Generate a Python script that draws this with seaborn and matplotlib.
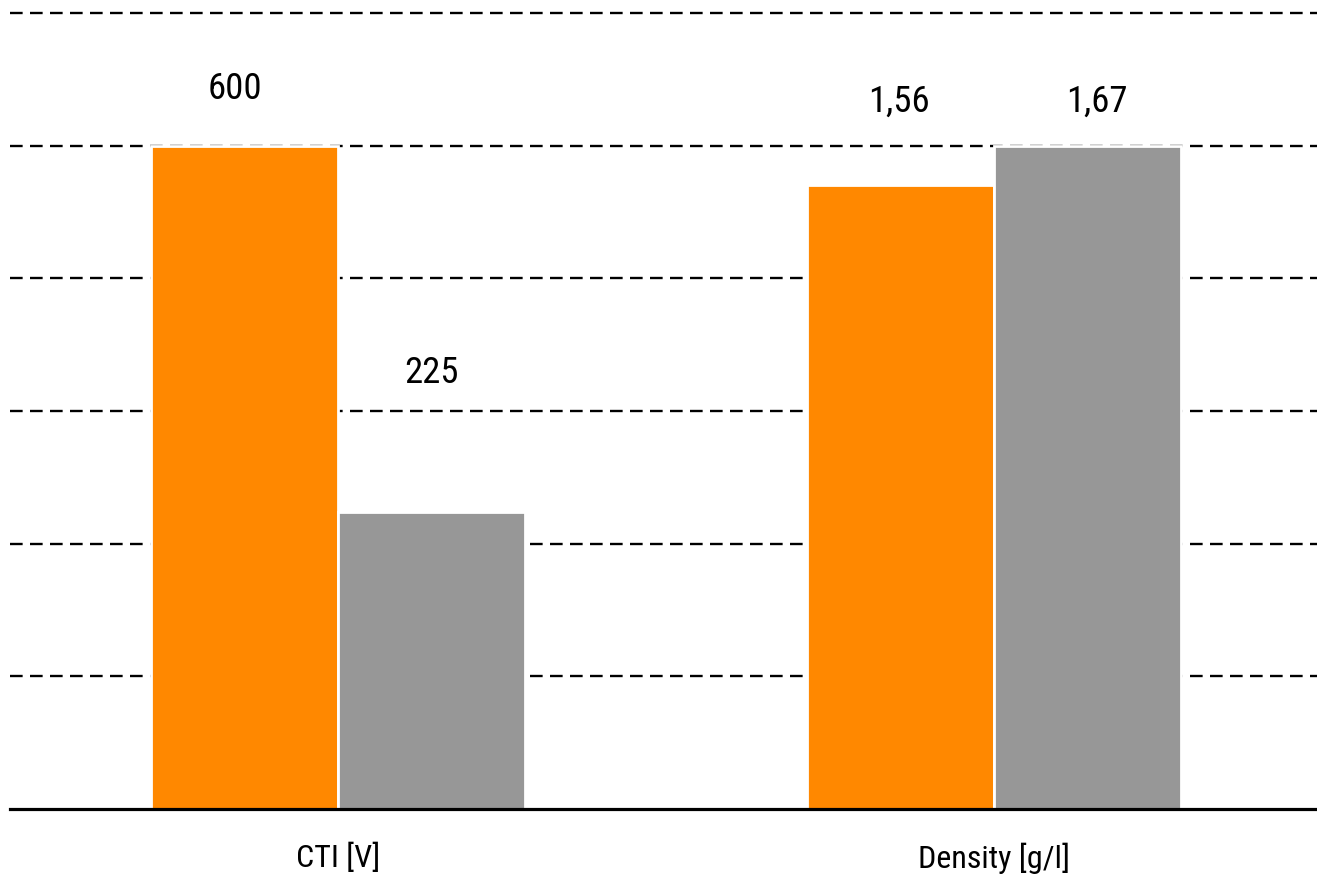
import matplotlib
matplotlib.use("Agg")
import matplotlib.pyplot as plt
from matplotlib import font_manager
import pandas as pd
import seaborn as sns

# Property groups and the two compared materials
categories = ["CTI [V]", "Density [g/l]"]
series = ["Compound", "Reference"]

# Relative bar heights on the 0-6 grid scale, per series
heights_compound = [5.0, 4.70]
heights_reference = [2.24, 5.0]

# Value labels printed above the bars
labels_compound = ["600", "1,56"]
labels_reference = ["225", "1,67"]

# Layout for value labels: height on the grid scale and horizontal nudge in pixels
label_y = {"Compound": [5.43, 5.33], "Reference": [3.29, 5.33]}
label_dx = {"Compound": [-10, -2], "Reference": [0, 9]}

colors = {"Compound": "#FF8800", "Reference": "#979797"}

df = pd.DataFrame({
    "category": categories * 2,
    "series": [series[0]] * len(categories) + [series[1]] * len(categories),
    "height": heights_compound + heights_reference,
    "label": labels_compound + labels_reference,
})

sns.set_theme(style="white")

# Prefer a narrow sans face when one is available
names = {f.name for f in font_manager.fontManager.ttflist}
narrow = None
for cand in ["Liberation Sans Narrow", "Arial Narrow", "Roboto Condensed",
             "Open Sans Condensed", "DejaVu Sans Condensed"]:
    if cand in names:
        narrow = cand
        break
if narrow is None:
    plt.rcParams["font.family"] = ["DejaVu Sans"]
else:
    plt.rcParams["font.family"] = [narrow, "DejaVu Sans"]
plt.rcParams["font.stretch"] = "condensed"
plt.rcParams["lines.scale_dashes"] = False

W, H, DPI = 1317, 875, 100
fig = plt.figure(figsize=(W / DPI, H / DPI), dpi=DPI)
fig.patch.set_facecolor("white")

left_px, right_px = 10, W
base_px, top_grid_px = 809, 13
unit_px = (base_px - top_grid_px) / 6.0
ymax = 6.05
top_px = base_px - ymax * unit_px
ax = fig.add_axes([left_px / W, (H - base_px) / H,
                   (right_px - left_px) / W, (base_px - top_px) / H])

sns.barplot(data=df, x="category", y="height", hue="series",
            hue_order=series, palette=colors, width=0.57,
            edgecolor="white", linewidth=2.0, saturation=1,
            legend=False, ax=ax, zorder=3)

ax.set_xlim(-0.5, 1.4924)
ax.set_ylim(0, ymax)
ax.set_yticks([1, 2, 3, 4, 5, 6])
ax.yaxis.grid(True, color="black", linewidth=1.7,
              linestyle=(0, (9.1, 5.3)), zorder=1)
ax.set_axisbelow(True)
ax.xaxis.grid(False)
for side in ["top", "left", "right"]:
    ax.spines[side].set_visible(False)
ax.spines["bottom"].set_color("black")
ax.spines["bottom"].set_linewidth(2.3)
ax.spines["bottom"].set_zorder(4)

ax.tick_params(axis="y", left=False, labelleft=False)
ax.tick_params(axis="x", bottom=False, length=0, pad=24,
               labelsize=23, labelcolor="black")
ax.set_xlabel("")
ax.set_ylabel("")

px_per_unit_x = (right_px - left_px) / (1.4924 + 0.5)
for name, container in zip(series, ax.containers):
    texts = labels_compound if name == series[0] else labels_reference
    for i, bar in enumerate(container):
        cx = bar.get_x() + bar.get_width() / 2 + label_dx[name][i] / px_per_unit_x
        ax.text(cx, label_y[name][i], texts[i], ha="center", va="center",
                fontsize=26.5, color="black", zorder=5)

fig.savefig("out.png", dpi=DPI, facecolor="white")
